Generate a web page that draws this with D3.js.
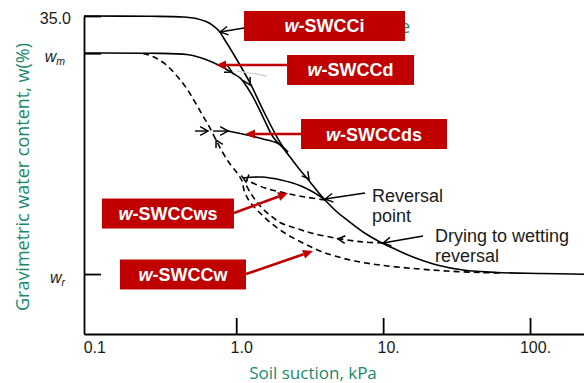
<!DOCTYPE html>
<html>
<head>
<meta charset="utf-8">
<script src="https://cdn.jsdelivr.net/npm/d3@7"></script>
<style>
  html, body { margin: 0; padding: 0; background: #ffffff; }
  svg { display: block; }
</style>
</head>
<body>
<svg id="chart" width="584" height="383"></svg>
<script>
// ---- Curve data: soil suction (kPa) and gravimetric water content (%) ----
// Initial drying curve (w-SWCCi), starting at 35.0 %
const initialDrySuction = [0.092, 0.259, 0.434, 0.532, 0.623, 0.695, 0.764, 0.813, 1.013, 1.241, 1.522, 1.895, 2.217];
const initialDryWater   = [35.0, 34.97, 34.89, 34.73, 34.39, 33.95, 33.35, 32.69, 30.16, 27.63, 24.65, 21.68, 19.92];

// Main drying curve (w-SWCCd), from w_m down to w_r
const mainDrySuction = [0.092, 0.259, 0.462, 0.567, 0.684, 0.839, 0.951, 1.061, 1.184, 1.301, 1.522, 1.780, 2.083, 2.324, 2.719, 3.180, 3.605, 4.022, 4.856, 5.679, 7.298, 9.526, 12.43, 15.98, 23.27, 34.99, 59.6, 117, 233];
const mainDryWater   = [30.93, 30.90, 30.76, 30.43, 29.94, 29.22, 28.67, 28.18, 27.19, 26.09, 23.88, 21.68, 20.47, 19.48, 18.05, 16.73, 15.63, 14.75, 13.43, 12.55, 11.23, 10.13, 9.25, 8.47, 7.59, 7.04, 6.77, 6.66, 6.58];

// Main wetting curve (w-SWCCw)
const mainWetSuction = [0.232, 0.271, 0.328, 0.395, 0.462, 0.524, 0.594, 0.663, 0.729, 0.813, 0.907, 1.013, 1.095, 1.130, 1.203, 1.343, 1.522, 1.753, 2.083, 2.514, 3.034, 3.720, 4.706, 6.438, 9.526, 15.98, 27.2, 45.7, 65.5];
const mainWetWater   = [30.87, 30.54, 29.72, 28.40, 26.97, 25.53, 23.99, 22.67, 21.35, 19.92, 18.71, 17.72, 16.84, 15.85, 14.86, 13.87, 12.99, 12.11, 11.23, 10.46, 9.80, 9.14, 8.58, 8.03, 7.59, 7.21, 6.93, 6.77, 6.71];

// Drying scanning curve (w-SWCCds), leaving the main wetting curve
const dryScanSuction = [0.880, 1.184, 1.522, 1.895, 2.083, 2.253];
const dryScanWater   = [22.34, 21.90, 21.46, 21.02, 20.58, 20.03];

// Wetting scanning curve (w-SWCCws), from the reversal point
const wetScanSuction = [4.022, 2.940, 2.149, 1.571, 1.166];
const wetScanWater   = [14.75, 15.08, 15.52, 16.07, 16.95];

// Drying branch returning to the reversal point
const returnDrySuction = [1.112, 1.475, 2.018, 2.762, 3.605, 4.022];
const returnDryWater   = [17.17, 17.28, 16.95, 16.29, 15.30, 14.75];

// Wetting branch after the drying-to-wetting reversal
const reversalWetSuction = [9.98, 7.298, 4.932, 3.230, 2.514, 2.018, 1.725, 1.498, 1.364, 1.241, 1.148];
const reversalWetWater   = [10.02, 10.13, 10.51, 11.12, 11.67, 12.22, 12.99, 13.87, 14.64, 15.63, 16.62];

// ---- Axis ticks ----
const xTickValues = [0.1, 1, 10, 100];
const xTickLabels = ["0.1", "1.0", "10.", "100."];
const yTickValues = [6.6, 30.9, 35.0];
const yTickLabels = [["w", "r"], ["w", "m"], ["35.0", ""]];

// ---- Callout boxes: label, anchor (suction, water) ----
const calloutNames    = ["SWCCi", "SWCCd", "SWCCds", "SWCCws", "SWCCw"];
const calloutSuction  = [3.99, 6.00, 8.67, 0.343, 0.434];
const calloutWater    = [33.90, 29.06, 22.01, 13.26, 6.55];
// red pointer for each callout: start and tip (suction, water)
const pointerFromSuction = [null, 2.217, 2.762, 0.966, 1.166];
const pointerFromWater   = [null, 29.61, 22.01, 13.32, 6.60];
const pointerToSuction   = [null, 0.729, 1.148, 2.253, 3.333];
const pointerToWater     = [null, 29.61, 22.01, 15.52, 9.14];

// ---- Black annotation arrows (from -> tip) ----
const noteArrowFromSuction = [1.130, 7.53, 18.69, 0.524, 0.695];
const noteArrowFromWater   = [33.68, 15.52, 10.79, 22.34, 22.34];
const noteArrowToSuction   = [0.776, 4.022, 9.98, 0.643, 0.880];
const noteArrowToWater     = [33.24, 14.86, 10.02, 22.34, 22.34];

// Direction markers sitting on the curves (from -> tip)
const markerFromSuction = [1.148, 0.826, 2.805, 0.800, 1.148, 5.952];
const markerFromWater   = [28.45, 29.28, 18.05, 20.14, 17.61, 10.35];
const markerToSuction   = [1.241, 0.936, 3.131, 0.729, 1.166, 4.932];
const markerToWater     = [27.41, 28.84, 17.06, 21.35, 16.73, 10.46];

// ---- Text notes ----
const noteLines   = [["Reversal", "point"], ["Drying to wetting", "reversal"]];
const noteSuction = [8.40, 22.56];
const noteWater   = [14.53, 10.13];

// ---------------------------------------------------------------------------
const W = 584, H = 383;
const plot = { left: 84, right: 584, top: 16, bottom: 334 };
const TEAL = "#178a6e";
const RED = "#c00000";
const SANS = "'Liberation Sans', Arial, sans-serif";
const LABEL_FONT = "'Open Sans', 'Noto Sans', sans-serif";

const svg = d3.select("#chart");

const x = d3.scaleLog().domain([0.092, 233]).range([plot.left, plot.right]);
const y = d3.scaleLinear().domain([0, 35]).range([plot.bottom, plot.top]);

const line = d3.line()
  .x(d => x(d[0]))
  .y(d => y(d[1]))
  .curve(d3.curveCatmullRom.alpha(0.5));

// ---- Axes ----
const xAxis = d3.axisBottom(x)
  .tickValues(xTickValues)
  .tickFormat((d, i) => xTickLabels[i])
  .tickSizeInner(-16)
  .tickSizeOuter(0)
  .tickPadding(22);

const gx = svg.append("g")
  .attr("transform", `translate(0,${plot.bottom})`)
  .call(xAxis);
gx.select(".domain").attr("stroke", "#000").attr("stroke-width", 1.8);
gx.selectAll(".tick line").attr("stroke", "#000").attr("stroke-width", 1.8)
  .filter(d => d === 0.1).remove();
gx.selectAll(".tick text")
  .attr("font-family", SANS).attr("font-size", 16).attr("fill", "#1a1a1a")
  .attr("dx", 5).attr("y", 8).attr("dy", "0.71em");

const yAxis = d3.axisLeft(y)
  .tickValues(yTickValues)
  .tickFormat("")
  .tickSizeInner(-17)
  .tickSizeOuter(0);

const gy = svg.append("g")
  .attr("transform", `translate(${plot.left},0)`)
  .call(yAxis);
gy.select(".domain").attr("stroke", "#000").attr("stroke-width", 1.8);
gy.selectAll(".tick line").attr("stroke", "#000").attr("stroke-width", 1.8);
gy.selectAll(".tick text").remove();

// y tick labels: 35.0, w_m, w_r
yTickValues.forEach((v, i) => {
  const [base, sub] = yTickLabels[i];
  const t = svg.append("text")
    .attr("font-family", SANS)
    .attr("fill", "#1a1a1a");
  if (sub) {
    t.attr("x", plot.left - 19).attr("y", y(v) + 9).attr("text-anchor", "end");
    t.append("tspan").attr("font-style", "italic").attr("font-size", 16).text(base);
    t.append("tspan").attr("font-style", "italic").attr("font-size", 10.5).attr("dy", 3).text(sub);
  } else {
    t.attr("x", plot.left - 13).attr("y", y(v) + 7.5).attr("text-anchor", "end")
      .attr("font-size", 16).text(base);
  }
});

// axis titles
svg.append("text")
  .attr("x", 313).attr("y", 379)
  .attr("text-anchor", "middle")
  .attr("font-family", LABEL_FONT).attr("font-size", 17)
  .attr("fill", TEAL)
  .text("Soil suction, kPa");

svg.append("text")
  .attr("transform", "translate(29,177) rotate(-90)")
  .attr("text-anchor", "middle")
  .attr("font-family", LABEL_FONT).attr("font-size", 18)
  .attr("fill", TEAL)
  .text("Gravimetric water content, w(%)");

// trailing letter of a caption sitting behind the first callout
svg.append("text")
  .attr("x", x(13.02)).attr("y", y(33.13))
  .attr("font-family", LABEL_FONT).attr("font-size", 18)
  .attr("fill", TEAL)
  .text("e");

// ---- Curves ----
const curves = [
  { s: initialDrySuction, w: initialDryWater, dash: null },
  { s: mainDrySuction, w: mainDryWater, dash: null },
  { s: mainWetSuction, w: mainWetWater, dash: "6,4" },
  { s: dryScanSuction, w: dryScanWater, dash: null },
  { s: wetScanSuction, w: wetScanWater, dash: "6,4" },
  { s: returnDrySuction, w: returnDryWater, dash: null },
  { s: reversalWetSuction, w: reversalWetWater, dash: "6,4" }
];

svg.append("g").selectAll("path")
  .data(curves)
  .join("path")
  .attr("d", c => line(d3.zip(c.s, c.w)))
  .attr("fill", "none")
  .attr("stroke", "#000")
  .attr("stroke-width", 1.6)
  .attr("stroke-dasharray", c => c.dash);

// faint guide stroke near the main drying curve
svg.append("line")
  .attr("x1", x(1.013)).attr("y1", y(28.95))
  .attr("x2", x(1.621)).attr("y2", y(28.40))
  .attr("stroke", "#d4d4d4").attr("stroke-width", 1.4);

// ---- Arrow helpers ----
function chevron(g, fx, fy, tx, ty, len, spread, width) {
  const a = Math.atan2(ty - fy, tx - fx);
  const p1 = [tx - len * Math.cos(a - spread), ty - len * Math.sin(a - spread)];
  const p2 = [tx - len * Math.cos(a + spread), ty - len * Math.sin(a + spread)];
  g.append("path")
    .attr("d", `M${p1[0]},${p1[1]}L${tx},${ty}L${p2[0]},${p2[1]}`)
    .attr("fill", "none").attr("stroke", "#000")
    .attr("stroke-width", width).attr("stroke-linejoin", "miter");
}

const notes = svg.append("g");
noteArrowFromSuction.forEach((_, i) => {
  const fx = x(noteArrowFromSuction[i]), fy = y(noteArrowFromWater[i]);
  const tx = x(noteArrowToSuction[i]), ty = y(noteArrowToWater[i]);
  notes.append("line")
    .attr("x1", fx).attr("y1", fy).attr("x2", tx).attr("y2", ty)
    .attr("stroke", "#000").attr("stroke-width", 1.4);
  chevron(notes, fx, fy, tx, ty, 9, 0.5, 1.4);
});

markerFromSuction.forEach((_, i) => {
  chevron(notes,
    x(markerFromSuction[i]), y(markerFromWater[i]),
    x(markerToSuction[i]), y(markerToWater[i]), 8, 0.5, 1.5);
});

// ---- Text notes ----
noteLines.forEach((lines, i) => {
  const t = svg.append("text")
    .attr("x", x(noteSuction[i])).attr("y", y(noteWater[i]))
    .attr("font-family", SANS).attr("font-size", 18).attr("fill", "#1a1a1a");
  lines.forEach((ln, k) => {
    t.append("tspan")
      .attr("x", x(noteSuction[i]))
      .attr("dy", k === 0 ? 0 : 20.5)
      .text(ln);
  });
});

// ---- Callouts (red boxes with pointers) ----
const boxWidths = [161, 127, 146, 132, 126];
const boxHeight = 30;
const callouts = svg.append("g");

calloutNames.forEach((name, i) => {
  if (pointerFromSuction[i] !== null) {
    const fx = x(pointerFromSuction[i]), fy = y(pointerFromWater[i]);
    const tx = x(pointerToSuction[i]), ty = y(pointerToWater[i]);
    const a = Math.atan2(ty - fy, tx - fx);
    const hl = 10, hw = 4.5;
    const bx = tx - hl * Math.cos(a), by = ty - hl * Math.sin(a);
    callouts.append("line")
      .attr("x1", fx).attr("y1", fy).attr("x2", bx).attr("y2", by)
      .attr("stroke", RED).attr("stroke-width", 2.6);
    callouts.append("path")
      .attr("d", `M${tx},${ty}L${bx - hw * Math.sin(a)},${by + hw * Math.cos(a)}L${bx + hw * Math.sin(a)},${by - hw * Math.cos(a)}Z`)
      .attr("fill", RED);
  }
  const cx = x(calloutSuction[i]), cy = y(calloutWater[i]);
  const bw = boxWidths[i];
  callouts.append("rect")
    .attr("x", cx - bw / 2).attr("y", cy - boxHeight / 2)
    .attr("width", bw).attr("height", boxHeight)
    .attr("fill", RED);
  const t = callouts.append("text")
    .attr("x", cx).attr("y", cy + 6.5)
    .attr("text-anchor", "middle")
    .attr("font-family", SANS).attr("font-size", 18).attr("font-weight", "bold")
    .attr("fill", "#ffffff");
  t.append("tspan").attr("font-style", "italic").text("w");
  t.append("tspan").text("-" + name);
});
</script>
</body>
</html>
